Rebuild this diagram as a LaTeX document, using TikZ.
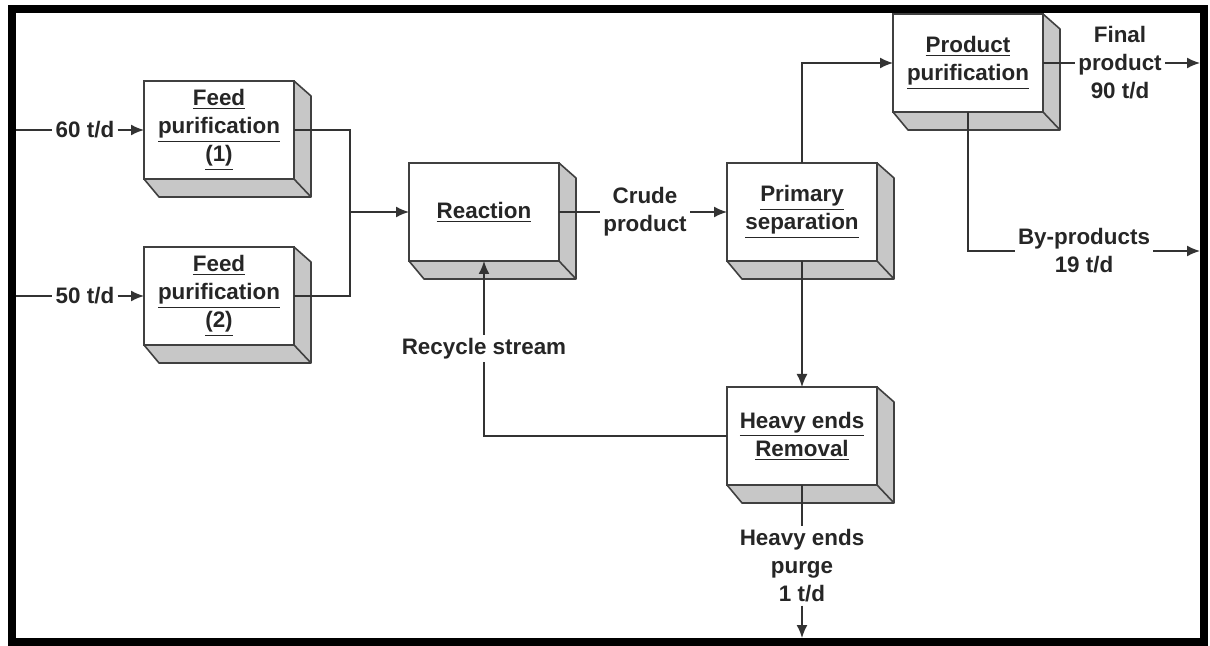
\documentclass[tikz,border=0pt]{standalone}
\usepackage{fontspec}
\setmainfont{Liberation Sans}
\usetikzlibrary{arrows.meta}

\begin{document}
\begin{tikzpicture}[x=0.5pt, y=-0.5pt,
  every node/.style={font=\fontsize{11.2}{14}\selectfont\bfseries, text=black!85},
  unit/.style={draw=black!75, line width=0.8pt, fill=white, minimum width=75pt,
    minimum height=49pt, inner sep=0pt, outer sep=0pt, align=center},
  lbl/.style={inner sep=1.5pt, align=center},
  flow/.style={draw=black!80, line width=0.8pt},
  arr/.style={flow, -{Latex[length=6.5pt,width=5.5pt]}}]
  \useasboundingbox (0,0) rectangle (1210,646);
  \draw[line width=4pt] (12,9) rectangle (1204,642);

  % process units
  \node[unit] (fp1) at (219,130) {\underline{Feed}\\\underline{purification}\\\underline{(1)}};
  \node[unit] (fp2) at (219,296) {\underline{Feed}\\\underline{purification}\\\underline{(2)}};
  \node[unit] (react) at (484,212) {\underline{Reaction}};
  \node[unit] (psep) at (802,212) {\underline{Primary}\\\underline{separation}};
  \node[unit] (ppur) at (968,63) {\underline{Product}\\\underline{purification}};
  \node[unit] (heavy) at (802,436) {\underline{Heavy ends}\\\underline{Removal}};
  \foreach \b in {fp1,fp2,react,psep,ppur,heavy}
    \filldraw[fill=black!22, draw=black!75, line width=0.8pt, line join=round]
      (\b.north east) -- ++(17,15) -- ([shift={(17,18)}]\b.south east) -- (\b.south east) -- cycle
      (\b.south west) -- (\b.south east) -- ++(17,18) -- ([shift={(15,18)}]\b.south west) -- cycle;

  % feeds
  \coordinate (in1) at (16,130);
  \coordinate (in2) at (16,296);
  \node[lbl] (f60) at (85,130) {60 t/d};
  \node[lbl] (f50) at (85,296) {50 t/d};
  \draw[flow] (in1) -- (f60.west);
  \draw[arr] (f60.east) -- (fp1.west);
  \draw[flow] (in2) -- (f50.west);
  \draw[arr] (f50.east) -- (fp2.west);
  \coordinate (mix) at (350,212);
  \draw[flow] (fp1.east) -| (mix) |- (fp2.east);
  \draw[arr] (mix) -- (react.west);

  % reaction and separation
  \node[lbl] (crude) at (645,212) {Crude\\product};
  \draw[flow] (react.east) -- (crude.west);
  \draw[arr] (crude.east) -- (psep.west);
  \draw[arr] (psep.north) |- (ppur.west);
  \draw[arr] (psep.south) -- (heavy.north);

  % products
  \node[lbl] (final) at (1120,63) {Final\\product\\90 t/d};
  \coordinate (out1) at (1200,63);
  \draw[flow] (ppur.east) -- (final.west);
  \draw[arr] (final.east) -- (out1);
  \node[lbl] (byp) at (1084,251) {By-products\\19 t/d};
  \coordinate (out2) at (1200,251);
  \draw[flow] (ppur.south) |- (byp.west);
  \draw[arr] (byp.east) -- (out2);

  % recycle and purge
  \draw[arr] (heavy.west) -| node[pos=0.75, lbl, fill=white] (recyc) {Recycle stream} (react.south);
  \node[lbl] (purge) at (802,566) {Heavy ends\\purge\\1 t/d};
  \coordinate (out3) at (802,638);
  \draw[flow] (heavy.south) -- (purge.north);
  \draw[arr] (purge.south) -- (out3);
\end{tikzpicture}
\end{document}
